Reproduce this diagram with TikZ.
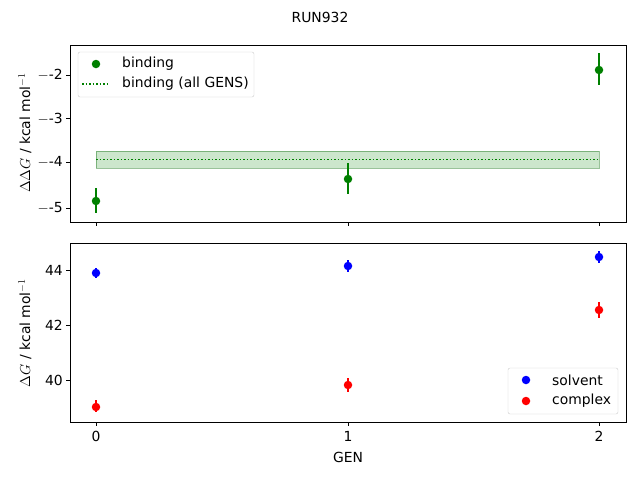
\documentclass[tikz,border=0pt]{standalone}
\usepackage{fontspec}
\setmainfont{DejaVu Sans}
\definecolor{mgreen}{RGB}{0,128,0}
\begin{document}
\begin{tikzpicture}[x=1pt,y=-1pt,
 lbl/.style={font=\fontsize{13.9}{16}\selectfont,inner sep=0pt},
 tk/.style={line width=0.8pt},
 ax/.style={line width=0.8pt},
 eb/.style={line width=1.5pt},
 dot/.style={circle,inner sep=0pt,minimum size=8.5pt}]
\useasboundingbox (0,0) rectangle (640,480);
\node[lbl] (title) at (320,17) {RUN932};
% top axes
\fill[mgreen,opacity=0.2] (96,151) rectangle (599,168);
\draw[mgreen!80!black,opacity=0.4,line width=0.8pt] (96,151) rectangle (599,168);
\draw[mgreen,dotted,line width=1.5pt] (96,159.5) -- (599,159.5);
\draw[mgreen,eb] (96,188) -- (96,213) (348,163) -- (348,194) (599,53) -- (599,85);
\node[dot,fill=mgreen] (b0) at (96,201) {};
\node[dot,fill=mgreen] (b1) at (348,179) {};
\node[dot,fill=mgreen] (b2) at (599,70) {};
\draw[ax] (70,45) rectangle (626,222);
\foreach \y/\t in {75/-2,118.5/-3,162/-4,208.5/-5}{
 \draw[tk] (70,\y) -- (66,\y);
 \node[lbl,anchor=east] at (63,\y) {$-$\t};}
\foreach \x in {96,348,599} \draw[tk] (\x,222) -- (\x,226);
\node[lbl,rotate=90] (yl1) at (25,133) {$\Delta\Delta G$ / kcal mol$^{-1}$};
% legend top
\draw[black!20,fill=white,rounded corners=2pt] (78,52) rectangle (254,97);
\node[dot,fill=mgreen] (lg1) at (96,64) {};
\node[lbl,anchor=west] at (122,64) {binding};
\draw[mgreen,dotted,line width=1.5pt] (82,84) -- (110,84);
\node[lbl,anchor=west] at (122,84) {binding (all GENS)};
% bottom axes
\draw[red,eb] (96,400) -- (96,412) (348,378) -- (348,392) (599,302) -- (599,318);
\draw[blue,eb] (96,268) -- (96,278) (348,260) -- (348,272) (599,251) -- (599,263);
\node[dot,fill=blue] (s0) at (96,273) {};
\node[dot,fill=blue] (s1) at (348,266) {};
\node[dot,fill=blue] (s2) at (599,257) {};
\node[dot,fill=red] (c0) at (96,407) {};
\node[dot,fill=red] (c1) at (348,385) {};
\node[dot,fill=red] (c2) at (599,310) {};
\draw[ax] (70,243) rectangle (626,422);
\foreach \y/\t in {270/44,325/42,380/40}{
 \draw[tk] (70,\y) -- (66,\y);
 \node[lbl,anchor=east] at (63,\y) {\t};}
\foreach \x/\t in {96/0,348/1,599/2}{
 \draw[tk] (\x,422) -- (\x,426);
 \node[lbl,anchor=north] at (\x,431) {\t};}
\node[lbl] (xl) at (348,457) {GEN};
\node[lbl,rotate=90] (yl2) at (25,333) {$\Delta G$ / kcal mol$^{-1}$};
% legend bottom
\draw[black!20,fill=white,rounded corners=2pt] (508,368) rectangle (618,414);
\node[dot,fill=blue] (lg2) at (526,380) {};
\node[lbl,anchor=west] at (552,380) {solvent};
\node[dot,fill=red] (lg3) at (526,401) {};
\node[lbl,anchor=west] at (552,401) {complex};
\end{tikzpicture}
\end{document}
